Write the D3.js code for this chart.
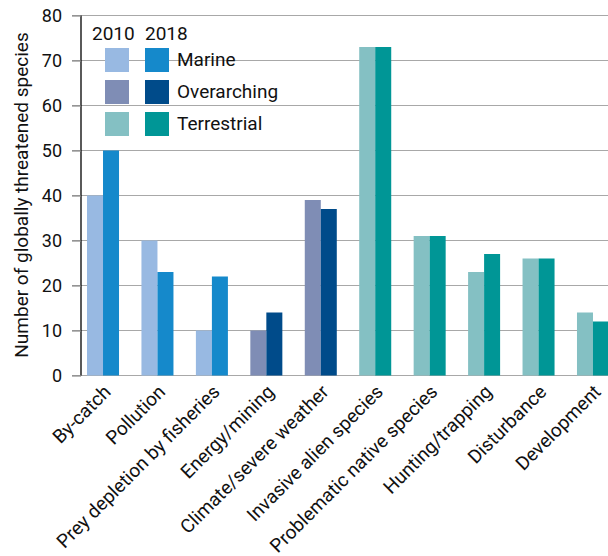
<!DOCTYPE html>
<html><head><meta charset="utf-8">
<script src="https://cdn.jsdelivr.net/npm/d3@7"></script>
<style>body{margin:0;background:#fff}svg{display:block;font-family:Roboto,"Noto Sans",sans-serif}</style>
</head><body><svg id="c" width="608" height="556"></svg>
<script>
const categories = ["By-catch","Pollution","Prey depletion by fisheries","Energy/mining","Climate/severe weather","Invasive alien species","Problematic native species","Hunting/trapping","Disturbance","Development"];
const groups = ["Marine","Marine","Marine","Overarching","Overarching","Terrestrial","Terrestrial","Terrestrial","Terrestrial","Terrestrial"];
const values2010 = [40,30,10,10,39,73,31,23,26,14];
const values2018 = [50,23,22,14,37,73,31,27,26,12];
const years = ["2010","2018"];
const legendGroups = ["Marine","Overarching","Terrestrial"];
const yTicks = [0,10,20,30,40,50,60,70,80];
const colors = {
  Marine: ["#98b9e2","#1589cb"],
  Overarching: ["#7f8db5","#004b8a"],
  Terrestrial: ["#84c0c3","#009696"]
};

const svg = d3.select("#c");
const y = d3.scaleLinear().domain([0,80]).range([375.5,15.5]);
const x0 = d3.scaleBand().domain(categories).range([75.8,620.2]).paddingInner(0.412).paddingOuter(0.206);
const x1 = d3.scaleBand().domain(years).range([0,x0.bandwidth()]);

// gridlines (extend left as tick marks)
svg.append("g").selectAll("line").data(yTicks).join("line")
  .attr("x1",72).attr("x2",608).attr("y1",d=>y(d)).attr("y2",d=>y(d))
  .attr("stroke","#a8a8a8").attr("stroke-width",1.2);

// bars
const data = categories.map((c,i)=>({c, g:groups[i], v:[values2010[i],values2018[i]]}));
const gb = svg.append("g").selectAll("g").data(data).join("g")
  .attr("transform",d=>`translate(${x0(d.c)},0)`);
gb.selectAll("rect").data(d=>years.map((yr,j)=>({yr, v:d.v[j], col:colors[d.g][j]}))).join("rect")
  .attr("x",d=>x1(d.yr)).attr("width",x1.bandwidth())
  .attr("y",d=>y(d.v)).attr("height",d=>y(0)-y(d.v))
  .attr("fill",d=>d.col);

// y axis
const ya = svg.append("g").attr("transform","translate(81,0)")
  .call(d3.axisLeft(y).tickValues(yTicks).tickSize(9).tickPadding(10));
ya.select(".domain").attr("stroke","#000").attr("stroke-width",1.3).attr("d","M0,15.5V375.5");
ya.selectAll(".tick line").attr("stroke","#888").attr("stroke-width",1.2);
ya.selectAll("text").attr("font-size",18).attr("fill","#111").style("font-family","Roboto");

// x labels
svg.append("g").selectAll("text").data(categories).join("text")
  .attr("transform",c=>`translate(${x0(c)+x0.bandwidth()/2+9},${393}) rotate(-45)`)
  .attr("text-anchor","end")
  .attr("font-size",19).attr("fill","#111").text(c=>c);

// y title
svg.append("text").attr("transform","translate(28,195) rotate(-90)")
  .attr("text-anchor","middle").attr("font-size",19).attr("fill","#111")
  .text("Number of globally threatened species");

// legend
const lg = svg.append("g");
lg.selectAll("text.yr").data(years).join("text").attr("class","yr")
  .attr("x",(d,i)=>i?145:92).attr("y",40).attr("font-size",19).attr("fill","#111").text(d=>d);
legendGroups.forEach((g,i)=>{
  [0,1].forEach(j=>{
    lg.append("rect").attr("x",j?145:105).attr("y",48+i*32).attr("width",24).attr("height",24).attr("fill",colors[g][j]);
  });
  lg.append("text").attr("x",177).attr("y",66+i*32).attr("font-size",19).attr("fill","#111").text(g);
});
</script></body></html>
